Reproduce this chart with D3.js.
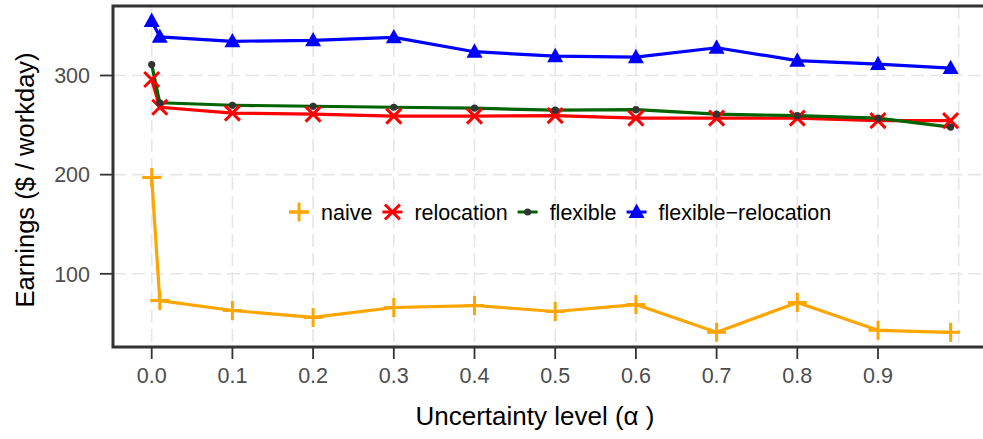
<!DOCTYPE html>
<html><head><meta charset="utf-8">
<script src="https://cdn.jsdelivr.net/npm/d3@7"></script>
<style>body{margin:0;background:#fff}svg{display:block}</style>
</head><body><div id="c"></div>
<script>
const alphas = [0, 0.01, 0.1, 0.2, 0.3, 0.4, 0.5, 0.6, 0.7, 0.8, 0.9, 0.99];
const naive = [197, 73, 63, 56, 66, 68, 62, 69, 41, 71, 43, 41];
const relocation = [296, 268, 262, 261, 259, 259, 259.5, 257, 257, 257, 254.5, 254.5];
const flexible = [311, 272.5, 270, 269, 268, 267, 265, 265.5, 261, 259.5, 257, 248];
const flexibleRelocation = [355, 339, 334.5, 335.5, 338.5, 324, 319.5, 318.5, 328, 315, 311.5, 307.5];
const seriesNames = ["naive", "relocation", "flexible", "flexible\u2212relocation"];
const seriesColors = ["#FFA500", "#FF0000", "#006400", "#0000FF"];
const xTicks = [0, 0.1, 0.2, 0.3, 0.4, 0.5, 0.6, 0.7, 0.8, 0.9];
const xGrid = [0, 0.1, 0.2, 0.3, 0.4, 0.5, 0.6, 0.7, 0.8, 0.9, 1.0];
const yTicks = [100, 200, 300];

const W = 983, H = 439;
const P = {l: 113, t: 6, r: 990, b: 347};
const svg = d3.select("#c").append("svg").attr("width", W).attr("height", H);
const x = d3.scaleLinear().domain([0, 1]).range([151.7, 958.7]);
const y = d3.scaleLinear().domain([100, 300]).range([273.8, 75.5]);
const font = "'Liberation Sans', Arial, sans-serif";

// grid
const g = svg.append("g");
g.selectAll(".gx").data(xGrid).join("line")
  .attr("x1", d => x(d)).attr("x2", d => x(d)).attr("y1", P.t).attr("y2", P.b)
  .attr("stroke", "#e6e6e6").attr("stroke-width", 1.6).attr("stroke-dasharray", "13,6");
g.selectAll(".gy").data(yTicks).join("line")
  .attr("x1", P.l).attr("x2", P.r).attr("y1", d => y(d)).attr("y2", d => y(d))
  .attr("stroke", "#e6e6e6").attr("stroke-width", 1.6).attr("stroke-dasharray", "13,6");

const allSeries = [naive, relocation, flexible, flexibleRelocation];
const line = d3.line().x((d, i) => x(alphas[i])).y(d => y(d));

function marker(sel, k, cx, cy) {
  const c = seriesColors[k];
  if (k === 0) {
    sel.append("path").attr("d", `M${cx-9.5},${cy}H${cx+9.5}M${cx},${cy-9.5}V${cy+9.5}`)
      .attr("stroke", c).attr("stroke-width", 3).attr("fill", "none");
  } else if (k === 1) {
    const s = 7.5;
    sel.append("path").attr("d", `M${cx-s},${cy-s}L${cx+s},${cy+s}M${cx-s},${cy+s}L${cx+s},${cy-s}`)
      .attr("stroke", c).attr("stroke-width", 3).attr("fill", "none");
  } else if (k === 2) {
    sel.append("circle").attr("cx", cx).attr("cy", cy).attr("r", 3.6).attr("fill", "#333333");
  } else {
    const s = 8;
    sel.append("path").attr("d", `M${cx},${cy-s*1.05}L${cx+s},${cy+s*0.75}L${cx-s},${cy+s*0.75}Z`)
      .attr("fill", c);
  }
}

const lg = svg.append("g");
allSeries.forEach((s, k) => {
  lg.append("path").attr("d", line(s)).attr("fill", "none")
    .attr("stroke", seriesColors[k]).attr("stroke-width", 3.2).attr("stroke-linejoin", "round");
});
allSeries.forEach((s, k) => {
  s.forEach((v, i) => marker(lg, k, x(alphas[i]), y(v)));
});

// border
svg.append("path").attr("d", `M${P.r},${P.t}H${P.l}V${P.b}H${P.r}`)
  .attr("fill", "none").attr("stroke", "#333333").attr("stroke-width", 3);

// axes ticks
svg.selectAll(".xt").data(xTicks).join("line")
  .attr("x1", d => x(d)).attr("x2", d => x(d)).attr("y1", P.b).attr("y2", P.b + 12)
  .attr("stroke", "#333333").attr("stroke-width", 1.8);
svg.selectAll(".xl").data(xTicks).join("text")
  .attr("x", d => x(d)).attr("y", 383).attr("text-anchor", "middle")
  .attr("font-family", font).attr("font-size", 21.5).attr("fill", "#4d4d4d")
  .text(d => d3.format(".1f")(d));
svg.selectAll(".yt").data(yTicks).join("line")
  .attr("x1", P.l - 13).attr("x2", P.l).attr("y1", d => y(d)).attr("y2", d => y(d))
  .attr("stroke", "#333333").attr("stroke-width", 1.8);
svg.selectAll(".yl").data(yTicks).join("text")
  .attr("x", 90).attr("y", d => y(d)).attr("dy", "0.36em").attr("text-anchor", "end")
  .attr("font-family", font).attr("font-size", 21.5).attr("fill", "#4d4d4d")
  .text(d => d);

// titles
svg.append("text").attr("x", 535).attr("y", 425).attr("text-anchor", "middle")
  .attr("font-family", font).attr("font-size", 26).attr("fill", "#000")
  .text("Uncertainty level (\u03b1 )");
svg.append("text").attr("transform", "translate(34,180) rotate(-90)").attr("text-anchor", "middle")
  .attr("font-family", font).attr("font-size", 25.5).attr("fill", "#000")
  .text("Earnings ($ / workday)");

// legend
const leg = svg.append("g");
let lx = 289;
const ly = 212;
seriesNames.forEach((n, k) => {
  leg.append("line").attr("x1", lx).attr("x2", lx + 20).attr("y1", ly).attr("y2", ly)
    .attr("stroke", seriesColors[k]).attr("stroke-width", 3);
  marker(leg, k, lx + 10, ly);
  const t = leg.append("text").attr("x", lx + 32).attr("y", ly).attr("dy", "0.35em")
    .attr("font-family", font).attr("font-size", 21.5).attr("fill", "#000").text(n);
  lx = lx + 32 + t.node().getComputedTextLength() + 10;
});
</script></body></html>
